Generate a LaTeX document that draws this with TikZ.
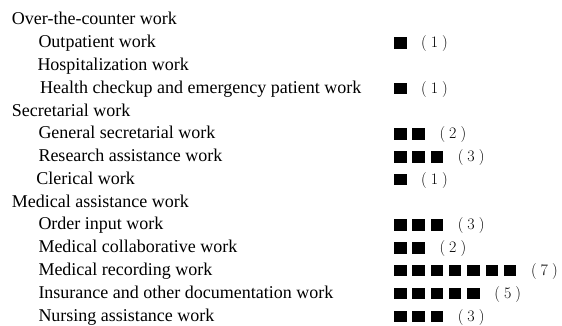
\documentclass[tikz,border=0pt]{standalone}
\usepackage{fontspec}
\setmainfont{Liberation Serif}
\newfontfamily\lmfont{Latin Modern Roman}
\begin{document}
\begin{tikzpicture}[x=1pt,y=-1pt,
  lbl/.style={anchor=base west,inner sep=0pt,font=\fontsize{18}{20}\selectfont},
  cnt/.style={anchor=base west,inner sep=0pt,font=\lmfont\fontsize{16}{18}\selectfont}]
\useasboundingbox (0,0) rectangle (562,326);
\def\rowy#1{25+22.77*#1}
\newcommand\barrow[3]{% row index, count, node name
  \foreach \k in {1,...,#2}{
    \fill (394+18.3*\k-18.3,{\rowy{#1}+1}) rectangle ++(12.5,-11.5);
  }
  \node[cnt] (#3) at ({394+18.3*(#2-1)+12.5+14.5},{\rowy{#1}}) {(\hspace{4pt}#2\hspace{4pt})};
}
\node[lbl] (l0) at (11.7,{\rowy{0}}) {Over-the-counter work};
\node[lbl] (l1) at (38.3,{\rowy{1}}) {Outpatient work};
\node[lbl] (l2) at (37.3,{\rowy{2}}) {Hospitalization work};
\node[lbl] (l3) at (40,{\rowy{3}}) {Health checkup and emergency patient work};
\node[lbl] (l4) at (11.7,{\rowy{4}}) {Secretarial work};
\node[lbl] (l5) at (38.3,{\rowy{5}}) {General secretarial work};
\node[lbl] (l6) at (38.3,{\rowy{6}}) {Research assistance work};
\node[lbl] (l7) at (36.2,{\rowy{7}}) {Clerical work};
\node[lbl] (l8) at (11.7,{\rowy{8}}) {Medical assistance work};
\node[lbl] (l9) at (38.3,{\rowy{9}}) {Order input work};
\node[lbl] (l10) at (38.3,{\rowy{10}}) {Medical collaborative work};
\node[lbl] (l11) at (38.3,{\rowy{11}}) {Medical recording work};
\node[lbl] (l12) at (38.3,{\rowy{12}}) {Insurance and other documentation work};
\node[lbl] (l13) at (38.3,{\rowy{13}}) {Nursing assistance work};
\barrow{1}{1}{c1}
\barrow{3}{1}{c3}
\barrow{5}{2}{c5}
\barrow{6}{3}{c6}
\barrow{7}{1}{c7}
\barrow{9}{3}{c9}
\barrow{10}{2}{c10}
\barrow{11}{7}{c11}
\barrow{12}{5}{c12}
\barrow{13}{3}{c13}
\end{tikzpicture}
\end{document}
